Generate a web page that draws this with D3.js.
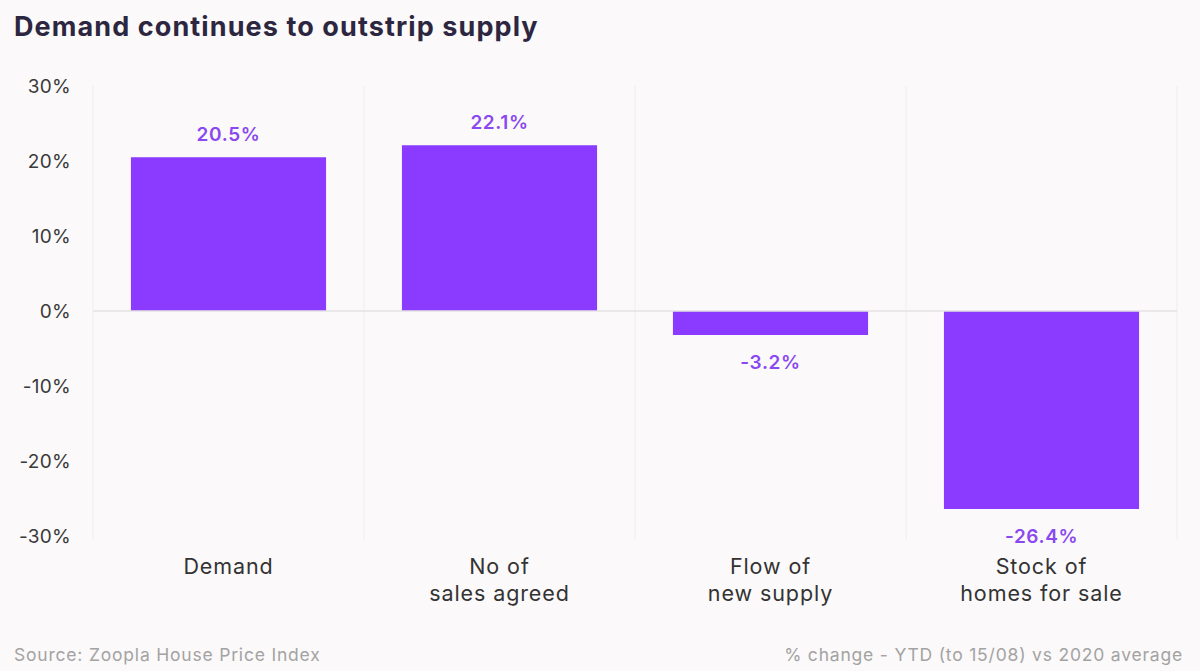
<!DOCTYPE html>
<html>
<head>
<meta charset="utf-8">
<script src="https://cdn.jsdelivr.net/npm/d3@7"></script>
<style>
  body { margin: 0; background: #fbf9f9; }
  #graf { width: 1200px; height: 671px; }
  text { font-family: Inter, "Noto Sans", sans-serif; }
</style>
</head>
<body>
<div id="graf"></div>
<script>
// Datos
const categorias = [["Demand"], ["No of", "sales agreed"], ["Flow of", "new supply"], ["Stock of", "homes for sale"]];
const valores = [20.5, 22.1, -3.2, -26.4];
const ticksY = [30, 20, 10, 0, -10, -20, -30];

const anchoTotal = 1200;
const altoTotal = 671;
const margins = { top: 86, right: 23, bottom: 135, left: 93 };
const ancho = anchoTotal - margins.left - margins.right;
const alto = altoTotal - margins.top - margins.bottom;

const svg = d3.select("#graf")
  .append("svg")
  .attr("width", anchoTotal)
  .attr("height", altoTotal);

svg.append("rect").attr("width", anchoTotal).attr("height", altoTotal).attr("fill", "#fbf9f9");

// Titulo
svg.append("text")
  .attr("x", 14)
  .attr("y", 36)
  .style("font-size", "27px")
  .style("font-weight", "700")
  .style("letter-spacing", "1.1px")
  .style("fill", "#2d2640")
  .text("Demand continues to outstrip supply");

const g = svg.append("g")
  .attr("transform", `translate(${margins.left}, ${margins.top})`);

const x = d3.scaleBand()
  .domain(d3.range(categorias.length))
  .range([0, ancho])
  .paddingInner(0.28)
  .paddingOuter(0.14);

const y = d3.scaleLinear().domain([-30, 30]).range([alto, 0]);

// lineas verticales (bordes de las categorias)
const paso = ancho / categorias.length;
g.selectAll(".vgrid")
  .data(d3.range(categorias.length + 1))
  .enter()
  .append("line")
  .attr("x1", (d) => d * paso)
  .attr("x2", (d) => d * paso)
  .attr("y1", 0)
  .attr("y2", alto + 4)
  .style("stroke", "#efeded")
  .style("stroke-width", 1);

// eje y
const ejeY = g.append("g")
  .call(d3.axisLeft(y).tickValues(ticksY).tickFormat((d) => d + "%").tickSize(0).tickPadding(22));
ejeY.select(".domain").remove();
ejeY.selectAll("text")
  .style("font-size", "19px")
  .style("font-family", "Inter, 'Noto Sans', sans-serif")
  .style("letter-spacing", "0.3px")
  .style("fill", "#3a3a3a")
  .attr("dy", "0.35em");

// barras
g.selectAll(".barra")
  .data(valores)
  .enter()
  .append("rect")
  .attr("x", (d, i) => x(i))
  .attr("y", (d) => y(Math.max(0, d)))
  .attr("width", x.bandwidth())
  .attr("height", (d) => Math.abs(y(d) - y(0)))
  .style("fill", "#8b3aff");

// linea de cero
g.append("line")
  .attr("x1", 0)
  .attr("x2", ancho)
  .attr("y1", y(0))
  .attr("y2", y(0))
  .style("stroke", "#e4e2e2")
  .style("stroke-width", 1.5);

// etiquetas de valor
g.selectAll(".valor")
  .data(valores)
  .enter()
  .append("text")
  .attr("x", (d, i) => x(i) + x.bandwidth() / 2)
  .attr("y", (d) => (d >= 0 ? y(d) - 16 : y(d) + 34))
  .attr("text-anchor", "middle")
  .style("font-size", "19px")
  .style("font-weight", "600")
  .style("letter-spacing", "0.6px")
  .style("fill", "#8a48f0")
  .text((d) => d.toFixed(1) + "%");

// etiquetas de categoria
const cats = g.selectAll(".cat")
  .data(categorias)
  .enter()
  .append("text")
  .attr("x", (d, i) => x(i) + x.bandwidth() / 2)
  .attr("y", alto + 38)
  .attr("text-anchor", "middle")
  .style("font-size", "21.5px")
  .style("letter-spacing", "0.9px")
  .style("fill", "#333333");
cats.selectAll("tspan")
  .data((d) => d)
  .enter()
  .append("tspan")
  .attr("x", function () { return d3.select(this.parentNode).attr("x"); })
  .attr("dy", (d, i) => (i === 0 ? 0 : 27))
  .text((d) => d);

// pie
svg.append("text")
  .attr("x", 14)
  .attr("y", 661)
  .style("font-size", "17.5px")
  .style("letter-spacing", "0.8px")
  .style("fill", "#a3a3a3")
  .text("Source: Zoopla House Price Index");

svg.append("text")
  .attr("x", 1183)
  .attr("y", 661)
  .attr("text-anchor", "end")
  .style("font-size", "17.5px")
  .style("letter-spacing", "0.8px")
  .style("fill", "#a3a3a3")
  .text("% change - YTD (to 15/08) vs 2020 average");
</script>
</body>
</html>
